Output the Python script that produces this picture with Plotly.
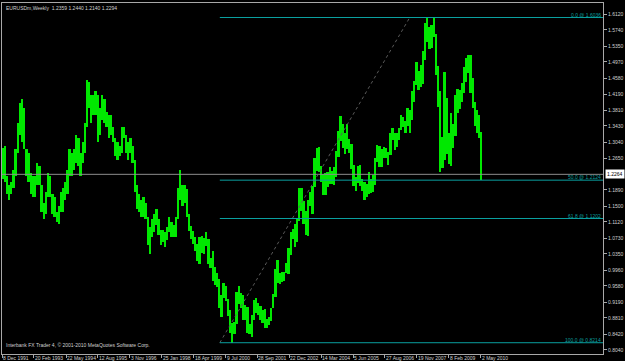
import pandas as pd
import plotly.graph_objects as go

# ---------------- data ----------------
months = pd.date_range("1991-12-01", "2010-05-01", freq="MS") + pd.Timedelta(days=14)

high = [
    1.290,
    1.295, 1.222, 1.200, 1.207, 1.238, 1.287, 1.349, 1.397, 1.407, 1.387, 1.287, 1.278,
    1.230, 1.222, 1.222, 1.254, 1.246, 1.200, 1.157, 1.185, 1.230, 1.222, 1.178, 1.171,
    1.137, 1.150, 1.185, 1.193, 1.207, 1.238, 1.287, 1.278, 1.287, 1.321, 1.313, 1.278,
    1.304, 1.349, 1.454, 1.449, 1.417, 1.417, 1.428, 1.417, 1.387, 1.417, 1.407, 1.377,
    1.368, 1.368, 1.340, 1.313, 1.304, 1.295, 1.340, 1.340, 1.321, 1.304, 1.313, 1.295,
    1.262, 1.200, 1.178, 1.164, 1.171, 1.157, 1.124, 1.099, 1.118, 1.131, 1.144, 1.118,
    1.093, 1.093, 1.087, 1.099, 1.124, 1.111, 1.105, 1.124, 1.193, 1.238, 1.200, 1.200,
    1.191, 1.131, 1.101, 1.089, 1.075, 1.060, 1.076, 1.078, 1.074, 1.088, 1.071, 1.026,
    1.041, 1.004, 0.988, 0.975, 0.936, 0.966, 0.957, 0.927, 0.901, 0.870, 0.872, 0.943,
    0.959, 0.940, 0.936, 0.912, 0.907, 0.867, 0.887, 0.923, 0.929, 0.918, 0.910, 0.900,
    0.902, 0.878, 0.884, 0.905, 0.938, 0.998, 1.020, 0.989, 0.991, 0.992, 1.014, 1.050,
    1.088, 1.094, 1.108, 1.122, 1.193, 1.193, 1.163, 1.138, 1.165, 1.184, 1.199, 1.265,
    1.290, 1.293, 1.246, 1.227, 1.229, 1.232, 1.245, 1.235, 1.243, 1.282, 1.331, 1.367,
    1.348, 1.325, 1.348, 1.311, 1.299, 1.248, 1.219, 1.247, 1.250, 1.216, 1.208, 1.204,
    1.232, 1.215, 1.225, 1.265, 1.298, 1.295, 1.287, 1.292, 1.290, 1.280, 1.327, 1.337,
    1.326, 1.325, 1.339, 1.368, 1.365, 1.355, 1.385, 1.380, 1.428, 1.452, 1.497, 1.476,
    1.490, 1.524, 1.590, 1.602, 1.580, 1.585, 1.604, 1.564, 1.487, 1.427, 1.316, 1.472,
    1.409, 1.326, 1.374, 1.347, 1.417, 1.432, 1.429, 1.445, 1.484, 1.507, 1.514, 1.513,
    1.458, 1.400, 1.382, 1.369, 1.328,
]
low = [
    1.215,
    1.207, 1.178, 1.164, 1.178, 1.193, 1.222, 1.278, 1.321, 1.304, 1.287, 1.222, 1.207,
    1.178, 1.171, 1.171, 1.200, 1.200, 1.137, 1.118, 1.131, 1.171, 1.171, 1.131, 1.124,
    1.111, 1.108, 1.137, 1.137, 1.164, 1.178, 1.222, 1.222, 1.238, 1.254, 1.246, 1.222,
    1.254, 1.278, 1.340, 1.387, 1.349, 1.368, 1.368, 1.304, 1.321, 1.358, 1.349, 1.340,
    1.313, 1.321, 1.304, 1.270, 1.262, 1.270, 1.278, 1.313, 1.278, 1.262, 1.278, 1.254,
    1.185, 1.144, 1.137, 1.124, 1.124, 1.118, 1.057, 1.035, 1.075, 1.087, 1.105, 1.081,
    1.057, 1.063, 1.052, 1.069, 1.087, 1.075, 1.075, 1.075, 1.118, 1.164, 1.150, 1.157,
    1.125, 1.089, 1.071, 1.058, 1.043, 1.019, 1.011, 1.038, 1.034, 1.054, 1.010, 1.000,
    0.971, 0.961, 0.955, 0.904, 0.884, 0.928, 0.921, 0.885, 0.846, 0.821, 0.842, 0.866,
    0.915, 0.905, 0.875, 0.876, 0.844, 0.842, 0.834, 0.875, 0.893, 0.889, 0.875, 0.870,
    0.858, 0.856, 0.865, 0.874, 0.905, 0.932, 0.965, 0.963, 0.968, 0.969, 0.988, 0.986,
    1.033, 1.070, 1.052, 1.064, 1.115, 1.139, 1.108, 1.080, 1.077, 1.150, 1.132, 1.195,
    1.235, 1.232, 1.209, 1.176, 1.176, 1.195, 1.204, 1.203, 1.200, 1.220, 1.269, 1.306,
    1.290, 1.276, 1.288, 1.278, 1.240, 1.199, 1.187, 1.206, 1.198, 1.187, 1.164, 1.172,
    1.180, 1.182, 1.184, 1.200, 1.256, 1.245, 1.245, 1.266, 1.266, 1.248, 1.274, 1.308,
    1.286, 1.292, 1.310, 1.334, 1.340, 1.327, 1.342, 1.326, 1.357, 1.401, 1.442, 1.430,
    1.437, 1.444, 1.501, 1.545, 1.529, 1.530, 1.556, 1.466, 1.388, 1.233, 1.242, 1.260,
    1.276, 1.251, 1.246, 1.289, 1.319, 1.375, 1.383, 1.400, 1.423, 1.448, 1.469, 1.422,
    1.386, 1.343, 1.327, 1.314, 1.214,
]

price_labels = ["1.6120", "1.5740", "1.5350", "1.4970", "1.4580", "1.4190", "1.3810",
                "1.3430", "1.3040", "1.2650", "1.1890", "1.1500", "1.1120", "1.0730",
                "1.0350", "0.9960", "0.9580", "0.9190", "0.8810", "0.8420", "0.8040"]

date_labels = ["8 Dec 1991", "20 Feb 1993", "22 May 1994", "12 Aug 1995", "3 Nov 1996",
               "25 Jan 1998", "18 Apr 1999", "9 Jul 2000", "28 Sep 2001", "22 Dec 2002",
               "14 Mar 2004", "5 Jun 2005", "27 Aug 2006", "19 Nov 2007", "8 Feb 2009",
               "2 May 2010"]

fib_levels = [0.0, 50.0, 61.8, 100.0]
fib_prices = [1.6036, 1.2124, 1.1202, 0.8214]
fib_start_date = "2000-04-20"
fib_end_date = "2007-08-10"

bid_price = 1.2264
title_text = "EURUSDm,Weekly  1.2359 1.2440 1.2140 1.2294"
footer_text = "Interbank FX Trader 4, \u00a9 2001-2010 MetaQuotes Software Corp."

# ---------------- style ----------------
X_RANGE = ["1991-12-04", "2015-01-15"]
Y_RANGE = [0.7943, 1.6385]
FONT = "Liberation Sans, Arial, sans-serif"
FS = 5
TXT = "#d0d0d0"
FRAME = "#a8a8a8"
FIB = "#0a9f9f"
GREEN = "#00e800"

date_ticks = [pd.to_datetime(d, format="%d %b %Y") for d in date_labels]

fig = go.Figure()

# bid line
fig.add_trace(go.Scatter(x=X_RANGE, y=[bid_price, bid_price], mode="lines",
                         line=dict(color="#8c8c8c", width=1), hoverinfo="skip"))

# price bars (high-low ranges)
fig.add_trace(go.Bar(x=months, y=[h - l for h, l in zip(high, low)], base=low,
                     width=26 * 86400000, marker=dict(color=GREEN, line=dict(width=0)),
                     hoverinfo="skip"))

# fibonacci trend line (dotted)
fig.add_trace(go.Scatter(x=[fib_start_date, fib_end_date], y=[fib_prices[-1], fib_prices[0]],
                         mode="lines", line=dict(color="#5a5a5a", width=1, dash="dot"),
                         hoverinfo="skip"))

# fibonacci levels
for lvl, p in zip(fib_levels, fib_prices):
    fig.add_trace(go.Scatter(x=[fib_start_date, X_RANGE[1]], y=[p, p], mode="lines",
                             line=dict(color=FIB, width=1), hoverinfo="skip"))
    fig.add_annotation(xref="paper", x=1, xanchor="right", xshift=-1,
                       y=p, yanchor="bottom", yshift=-1,
                       text=f"{lvl:.1f} @ {p:.4f}", showarrow=False, borderpad=0,
                       font=dict(family=FONT, size=FS, color=FIB))

# date labels
for d, t in zip(date_ticks, date_labels):
    fig.add_annotation(x=d, xanchor="left", xshift=0, yref="paper", y=0, yanchor="top",
                       yshift=0, text=t, showarrow=False, borderpad=0,
                       font=dict(family=FONT, size=FS, color=TXT))

# header and footer
fig.add_annotation(xref="paper", x=0, xanchor="left", xshift=3, yref="paper", y=1,
                   yanchor="top", yshift=-1, text=title_text, showarrow=False, borderpad=0,
                   font=dict(family=FONT, size=FS, color=TXT))
fig.add_annotation(xref="paper", x=0, xanchor="left", xshift=3, yref="paper", y=0,
                   yanchor="bottom", yshift=5, text=footer_text, showarrow=False, borderpad=0,
                   font=dict(family=FONT, size=FS, color=TXT))

# current price box
fig.add_annotation(xref="paper", x=1, xanchor="left", xshift=2, y=bid_price,
                   yanchor="middle", text=f"{bid_price:.4f}", showarrow=False,
                   bgcolor="#ffffff", borderpad=1,
                   font=dict(family=FONT, size=FS, color="#000000"))

fig.update_layout(
    width=625, height=361,
    margin=dict(l=1, r=19, t=3, b=7, pad=0),
    paper_bgcolor="#000000", plot_bgcolor="#000000",
    showlegend=False, bargap=0,
    font=dict(family=FONT, size=FS, color=TXT),
    xaxis=dict(type="date", range=X_RANGE, showgrid=False, zeroline=False,
               showline=True, mirror=True, linecolor=FRAME, linewidth=1,
               tickvals=date_ticks, ticks="outside", ticklen=3, tickcolor=FRAME,
               showticklabels=False),
    yaxis=dict(range=Y_RANGE, side="right", showgrid=False, zeroline=False,
               showline=True, mirror=True, linecolor=FRAME, linewidth=1,
               tickvals=[float(v) for v in price_labels], ticktext=price_labels,
               ticks="outside", ticklen=3, tickcolor=FRAME,
               tickfont=dict(family=FONT, size=FS, color=TXT)),
)

fig.write_html("out.html")
